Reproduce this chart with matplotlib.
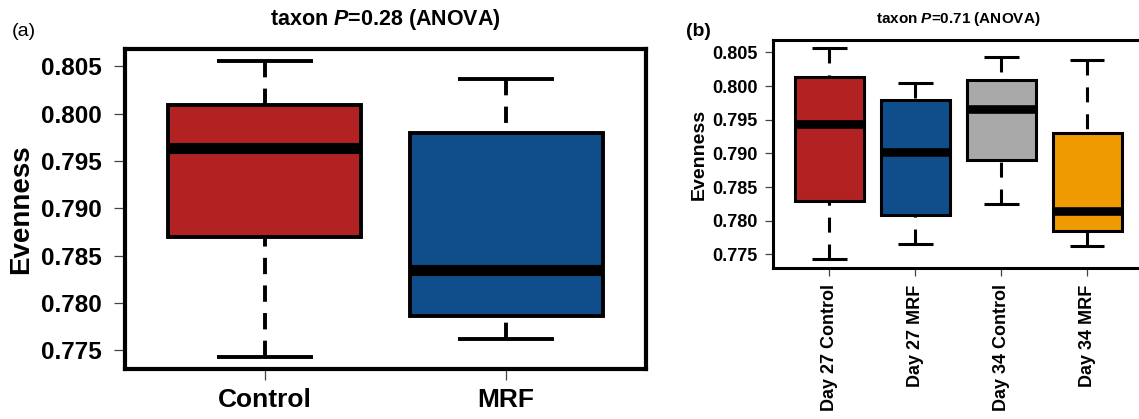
import matplotlib
matplotlib.use('Agg')
from matplotlib import pyplot


# 
# Box statistics (whisker low, Q1, median, Q3, whisker high)
# 
groups_a = ['Control', 'MRF']
whislo_a = [0.77426, 0.77623]
q1_a     = [0.78701, 0.77862]
med_a    = [0.79634, 0.78352]
q3_a     = [0.80088, 0.79799]
whishi_a = [0.80560, 0.80373]
colors_a = ['#B22222', '#104E8B']
title_a = 'taxon $\\mathit{P}$=0.28 (ANOVA)'

groups_b = ['Day 27 Control', 'Day 27 MRF', 'Day 34 Control', 'Day 34 MRF']
whislo_b = [0.77426, 0.77658, 0.78248, 0.77624]
q1_b     = [0.78292, 0.78079, 0.78901, 0.77842]
med_b    = [0.79436, 0.79025, 0.79658, 0.78139]
q3_b     = [0.80129, 0.79797, 0.80084, 0.79297]
whishi_b = [0.80559, 0.80040, 0.80426, 0.80381]
colors_b = ['#B22222', '#104E8B', '#A9A9A9', '#EE9A00']
title_b = 'taxon $\\mathit{P}$=0.71 (ANOVA)'

yticks = [0.775, 0.780, 0.785, 0.790, 0.795, 0.800, 0.805]
ylim = [0.77301, 0.80685]


# 
# Fonts
# 
pyplot.rcParams['font.family'] = 'Liberation Sans'
pyplot.rcParams['font.weight'] = 'bold'
pyplot.rcParams['mathtext.fontset'] = 'custom'
pyplot.rcParams['mathtext.it'] = 'Liberation Sans:italic:bold'
pyplot.rcParams['mathtext.rm'] = 'Liberation Sans:bold'


def draw_boxes(ax, labels, lo, q1, med, q3, hi, colors, lw, med_lw, spine_lw, dash):
    stats = []
    for i in range(len(labels)):
        stats.append({'label': labels[i], 'whislo': lo[i], 'q1': q1[i], 'med': med[i],
                      'q3': q3[i], 'whishi': hi[i], 'fliers': []})
    bp = ax.bxp(stats, positions=range(1, len(labels)+1), widths=0.8, capwidths=0.4,
                patch_artist=True, showfliers=False,
                boxprops=dict(linewidth=lw, edgecolor='black', joinstyle='miter'),
                whiskerprops=dict(linewidth=lw, color='black', linestyle=(0, dash), dash_capstyle='butt'),
                capprops=dict(linewidth=lw, color='black', solid_capstyle='butt'),
                medianprops=dict(linewidth=med_lw, color='black', solid_capstyle='butt'))
    for patch, c in zip(bp['boxes'], colors):
        patch.set_facecolor(c)
    # dash pattern starts at the staple, not at the box
    for w in bp['whiskers']:
        w.set_xdata(w.get_xdata()[::-1])
        w.set_ydata(w.get_ydata()[::-1])
    ax.set_xlim(0.5 - 0.04*len(labels), len(labels) + 0.5 + 0.04*len(labels))
    ax.set_ylim(ylim)
    ax.set_yticks(yticks)
    ax.set_yticklabels(['%0.3f' % t for t in yticks])
    for s in ax.spines.values():
        s.set_linewidth(spine_lw)
    return bp


fig = pyplot.figure(figsize=(11.39, 4.19), dpi=100)

# 
# Panel (a)
# 
ax1 = fig.add_axes([0.10975, 0.11933, 0.45742, 0.76372])
draw_boxes(ax1, groups_a, whislo_a, q1_a, med_a, q3_a, whishi_a, colors_a, 2.8, 8.0, 3.0, (4.2, 2.9))
ax1.tick_params(axis='both', length=8, width=0.9, color='#444444', labelsize=17.5)
ax1.tick_params(axis='y', pad=9)
ax1.tick_params(axis='x', pad=6, labelsize=19)
fig.text(21.5/1139, 1-209/419, 'Evenness', rotation=90, ha='center', va='center', fontsize=20)
fig.text(385.5/1139, 1-25/419, title_a, ha='center', va='baseline', fontsize=15.5)
fig.text(12/1139, 1-31/419, '(a)', ha='left', va='center', fontsize=14, fontweight='normal')

# 
# Panel (b)
# 
ax2 = fig.add_axes([0.67840, 0.36110, 0.32599, 0.54344])
draw_boxes(ax2, groups_b, whislo_b, q1_b, med_b, q3_b, whishi_b, colors_b, 2.2, 6.2, 2.2, (4.9, 3.9))
ax2.tick_params(axis='both', length=6, width=0.9, color='#444444', labelsize=13)
ax2.tick_params(axis='y', pad=5)
ax2.tick_params(axis='x', pad=6, labelrotation=90)
fig.text(699.5/1139, 1-154/419, 'Evenness', rotation=90, ha='center', va='center', fontsize=14)
fig.text(958/1139, 1-23/419, title_b, ha='center', va='baseline', fontsize=11)
fig.text(686/1139, 1-31/419, '(b)', ha='left', va='center', fontsize=14)

pyplot.savefig('out.png', dpi=100)
print('Output to "out.png"!')
